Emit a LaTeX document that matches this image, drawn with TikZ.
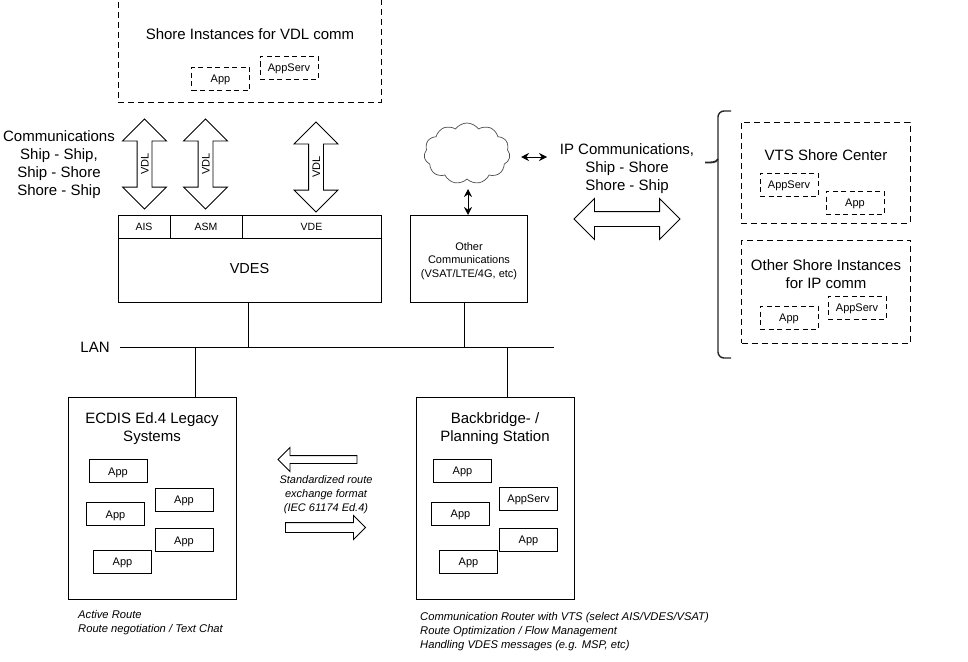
\documentclass[tikz,border=0pt]{standalone}
\usepackage{fontspec}
\setmainfont{Liberation Sans}
\usetikzlibrary{arrows.meta,positioning,shapes.arrows,shapes.symbols}

\tikzset{
  solidbox/.style={draw,line width=1pt,inner sep=0pt,outer sep=0pt,align=center},
  dashbox/.style={solidbox,dash pattern=on 6pt off 4pt},
  appbox/.style={solidbox,line width=0.9pt,minimum width=58pt,minimum height=23pt,
    text height=8pt,text depth=0pt,font=\fontsize{11}{13}\selectfont},
  appdash/.style={appbox,dash pattern=on 5pt off 3.5pt},
  chanbox/.style={solidbox,minimum height=23pt,text height=8pt,text depth=0pt,font=\fontsize{10.5}{13}\selectfont},
  titletext/.style={align=center,inner sep=0pt,font=\fontsize{15}{18}\selectfont},
  smalltext/.style={align=center,inner sep=0pt,font=\fontsize{11}{14}\selectfont},
  notetext/.style={align=left,anchor=west,inner sep=0pt,font=\fontsize{11.2}{14}\itshape\selectfont},
  vdlarrow/.style={draw,line width=0.9pt,double arrow,rotate=90,double arrow head extend=14.5pt,
    double arrow tip angle=90,minimum height=90pt,minimum width=43pt,inner xsep=0pt,inner ysep=3pt,
    text height=8pt,text depth=0pt,font=\fontsize{11}{13}\selectfont},
  flatarrow/.style={draw,line width=0.9pt,single arrow,single arrow tip angle=90,inner xsep=0pt},
  linkarrow/.style={{Stealth[length=8pt,width=8pt]}-{Stealth[length=8pt,width=8pt]},line width=1pt}
}

\begin{document}
\begin{tikzpicture}[x=1pt,y=-1pt]
\useasboundingbox (0,0) rectangle (968,661);

% shore side of the VDL link
\node[dashbox,minimum width=263pt,minimum height=102pt] (shorevdl) at (249.5,51) {};
\node[titletext] (shorevdltitle) at (250,34) {Shore Instances for VDL comm};
\node[appdash] (vdlapp) at (220.5,78.5) {App};
\node[appdash] (vdlserv) at (289,67.5) {AppServ};

% the VDL arrows
\node[vdlarrow] (vdlais) at (144.5,164) {VDL};
\node[vdlarrow] (vdlasm) at (205.5,164) {VDL};
\node[vdlarrow] (vdlvde) at (316,167) {VDL};
\node[titletext] (commtext) at (59,165) {Communications\\Ship - Ship,\\Ship - Shore\\Shore - Ship};

% VDES with its channels
\node[chanbox,minimum width=52pt] (ais) at (144,226.5) {AIS};
\node[chanbox,minimum width=72pt,right=0pt of ais] (asm) {ASM};
\node[chanbox,minimum width=139pt,right=0pt of asm] (vde) {VDE};
\node[solidbox,minimum width=263pt,minimum height=64pt,text height=10.5pt,text depth=4pt,
  font=\fontsize{14.5}{18}\selectfont] (vdes) at (249.5,270) {VDES};

% other communications and the cloud
\node[solidbox,minimum width=117pt,minimum height=87pt] (other) at (468.5,258.5) {};
\node[smalltext,font=\fontsize{11}{13.5}\selectfont] (othertext) at (469,261) {Other\\Communications\\(VSAT/LTE/4G, etc)};
\node[draw,black!70,line width=0.7pt,cloud,cloud puffs=11,cloud puff arc=110,aspect=1.4,
  minimum width=86pt,minimum height=61pt,inner sep=0pt] (cloud) at (467,153.5) {};
\coordinate (cloudlow) at (468,189);
\coordinate (cloudright) at (521,157);
\coordinate (ipleft) at (547,157);
\draw[linkarrow] (cloudlow) -- (cloudlow |- other.north);
\draw[linkarrow] (cloudright) -- (ipleft);

% IP link
\node[titletext] (iptext) at (627,169) {IP Communications,\\Ship - Shore\\Shore - Ship};
\node[draw,line width=0.9pt,double arrow,double arrow tip angle=90,double arrow head extend=13pt,
  minimum height=106pt,minimum width=40pt,inner xsep=0pt,inner ysep=7pt] (iparrow) at (627,219) {};

% shore side of the IP link
\draw[line width=1.4pt,black!85,rounded corners=6pt] (731,111) -- (718,111) -- (718,358) -- (731,358);
\draw[line width=1.8pt,black!85] (705,162.5) .. controls (711,162.5) and (716,163) .. (718,159);
\node[dashbox,minimum width=169pt,minimum height=101pt] (vts) at (825.5,172.5) {};
\node[titletext] (vtstitle) at (826,155) {VTS Shore Center};
\node[appdash] (vtsserv) at (789,184.5) {AppServ};
\node[appdash] (vtsapp) at (855,202.5) {App};
\node[dashbox,minimum width=169pt,minimum height=103pt] (shoreip) at (826,291.5) {};
\node[titletext] (shoreiptitle) at (826,274) {Other Shore Instances\\for IP comm};
\node[appdash] (ipapp) at (789,317.5) {App};
\node[appdash] (ipserv) at (857,307.5) {AppServ};

% the LAN
\node[titletext] (lan) at (95,347) {LAN};
\coordinate (lanleft) at (120,347);
\coordinate (lanright) at (554,347);
\coordinate (tapecdis) at (195,347);
\coordinate (tapvdes) at (248,347);
\coordinate (tapother) at (464,347);
\coordinate (tapback) at (507,347);
\draw[line width=1pt] (lanleft) -- (lanright);
\draw[line width=1pt] (tapvdes |- vdes.south) -- (tapvdes);
\draw[line width=1pt] (tapother |- other.south) -- (tapother);

% ECDIS
\node[solidbox,minimum width=168pt,minimum height=202pt] (ecdis) at (152,498) {};
\draw[line width=1pt] (tapecdis) -- (tapecdis |- ecdis.north);
\node[titletext] (ecdistitle) at (152,428.5) {ECDIS Ed.4 Legacy\\Systems};
\foreach \n/\x/\y in {a/118/471,b/184/499.5,c/115.5/514,d/184/540,e/122.5/561.5}
    \node[appbox] (ecdis\n) at (\x,\y) {App};

% backbridge
\node[solidbox,minimum width=158pt,minimum height=202pt] (back) at (495,498) {};
\draw[line width=1pt] (tapback) -- (tapback |- back.north);
\node[titletext] (backtitle) at (495,428.5) {Backbridge- /\\Planning Station};
\foreach \n/\x/\y in {a/462.5/470.5,c/460.5/513.5,d/528.5/539.5,e/468.5/561.5}
    \node[appbox] (back\n) at (\x,\y) {App};
\node[appbox] (backb) at (528.5,498.5) {AppServ};

% route exchange between the two
\node[flatarrow,shape border rotate=180,minimum height=79pt,minimum width=23pt,
  single arrow head extend=8pt,inner ysep=3.5pt] (routeleft) at (319.5,459.5) {};
\node[flatarrow,minimum height=80pt,minimum width=23pt,
  single arrow head extend=7pt,inner ysep=4.5pt] (routeright) at (323,527.5) {};
\node[smalltext,font=\fontsize{11}{14}\itshape\selectfont] (routetext) at (326,495) {Standardized route\\exchange format\\(IEC 61174 Ed.4)};

% notes below the boxes
\node[notetext] (ecdisnote) at (78,623) {Active Route\\Route negotiation / Text Chat};
\node[notetext] (backnote) at (420,632) {Communication Router with VTS (select AIS/VDES/VSAT)\\Route Optimization / Flow Management\\Handling VDES messages (e.g. MSP, etc)};

\end{tikzpicture}
\end{document}
